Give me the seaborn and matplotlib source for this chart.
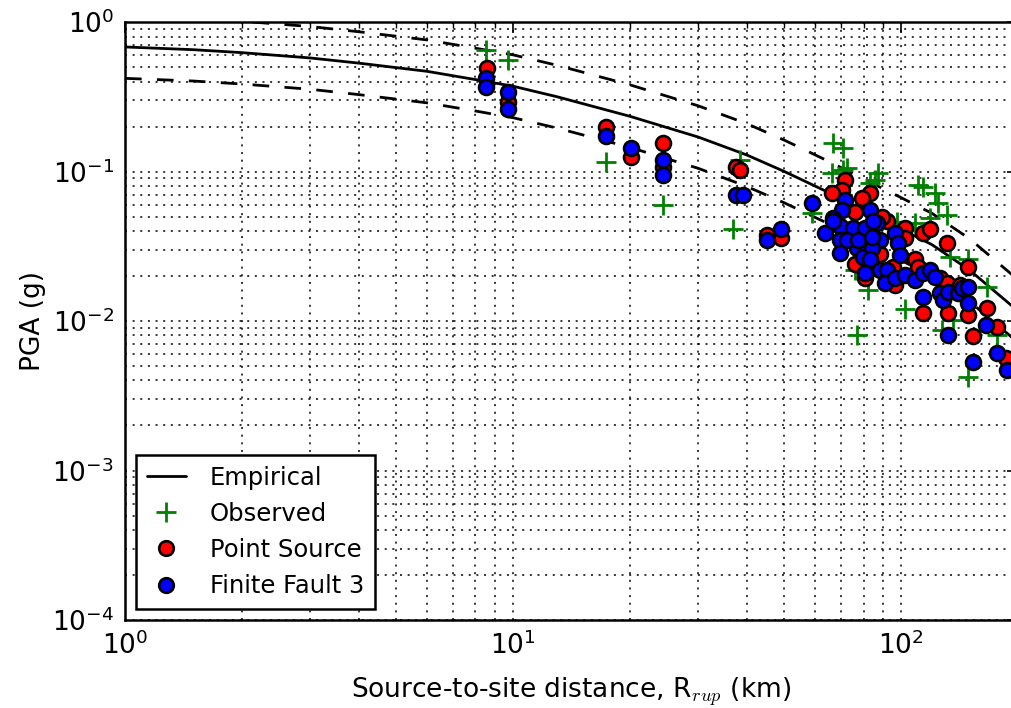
import numpy as np
import pandas as pd
import matplotlib
matplotlib.use("Agg")
import matplotlib.pyplot as plt
from matplotlib.lines import Line2D
from matplotlib.ticker import LogLocator, NullFormatter
import seaborn as sns

# Empirical ground-motion model: median and +/- one standard deviation
emp_r = [1, 1.5, 2, 3, 4, 6, 8, 10, 13, 20, 30, 40, 50, 65, 80, 100, 120, 150, 193]
emp_median = [0.681, 0.653, 0.624, 0.575, 0.531, 0.468, 0.412, 0.372, 0.316, 0.234,
              0.170, 0.129, 0.100, 0.0724, 0.0550, 0.0412, 0.0324, 0.0219, 0.0126]
emp_upper = [1.104, 1.059, 1.012, 0.933, 0.861, 0.759, 0.668, 0.603, 0.513, 0.380,
             0.275, 0.209, 0.162, 0.117, 0.0891, 0.0668, 0.0525, 0.0355, 0.0204]
emp_lower = [0.420, 0.403, 0.385, 0.355, 0.327, 0.288, 0.254, 0.229, 0.195, 0.145,
             0.105, 0.0794, 0.0617, 0.0447, 0.0339, 0.0254, 0.0200, 0.0135, 0.00776]

# Recorded PGA
obs_r = [8.5, 9.7, 17.4, 24.3, 36.9, 38.5, 59.0, 66.8, 70.9, 66.4, 70.9, 72.6,
         83.2, 87.3, 85.7, 110.6, 114.0, 122.4, 124.5, 131.4, 118.8, 97.7, 108.6,
         133.7, 148.9, 166.6, 82.2, 102.4, 77.0, 127.6, 148.9, 176.7, 76.1, 136.0]
obs_pga = [0.65, 0.56, 0.116, 0.060, 0.041, 0.12, 0.053, 0.155, 0.144, 0.098, 0.102, 0.106,
           0.084, 0.098, 0.088, 0.081, 0.079, 0.072, 0.062, 0.051, 0.049, 0.046, 0.045,
           0.027, 0.026, 0.017, 0.016, 0.012, 0.0081, 0.0087, 0.0042, 0.0081, 0.022, 0.0101]

# Simulated PGA, point-source model
ps_r = [8.57, 9.71, 17.3, 20.1, 24.3, 24.3, 37.6, 38.5, 45.1, 49.1, 71.7, 70.5,
        66.4, 83.2, 79.3, 76.1, 92.0, 89.3, 76.1, 88.3, 102.4, 102.4, 114.0, 118.8,
        131.4, 108.6, 110.6, 95.3, 96.6, 80.7, 126.1, 131.4, 148.9, 114.0, 132.2, 148.9,
        166.6, 141.9, 153.4, 176.7, 186.5]
ps_pga = [0.49, 0.29, 0.20, 0.125, 0.155, 0.107, 0.107, 0.102, 0.0376, 0.0359, 0.088, 0.075,
          0.072, 0.072, 0.0665, 0.054, 0.047, 0.050, 0.024, 0.028, 0.042, 0.036, 0.039, 0.041,
          0.033, 0.026, 0.023, 0.023, 0.0174, 0.0194, 0.0194, 0.018, 0.023, 0.0113, 0.0113, 0.011,
          0.0122, 0.0174, 0.0079, 0.0091, 0.0057]

# Simulated PGA, finite-fault model 3
ff_r = [8.52, 8.52, 9.71, 9.71, 17.3, 20.1, 24.3, 24.3, 37.6, 39.2, 45.1, 49.1,
        59.0, 71.7, 70.5, 66.8, 63.7, 69.6, 75.2, 80.7, 83.2, 86.7, 88.3, 69.6,
        69.6, 77.0, 79.8, 84.2, 83.2, 80.7, 88.3, 72.6, 77.5, 84.7, 84.2, 92.0,
        90.9, 96.6, 98.2, 99.4, 96.6, 102.4, 108.6, 114.0, 118.8, 122.4, 126.1, 114.0,
        128.3, 132.2, 140.2, 143.6, 148.9, 148.9, 132.2, 153.4, 165.6, 176.7, 187.6, 66.8]
ff_pga = [0.42, 0.37, 0.34, 0.26, 0.173, 0.144, 0.119, 0.095, 0.070, 0.070, 0.035, 0.041,
          0.062, 0.0645, 0.055, 0.049, 0.039, 0.043, 0.042, 0.042, 0.055, 0.045, 0.035, 0.035,
          0.0285, 0.031, 0.027, 0.031, 0.026, 0.021, 0.022, 0.035, 0.035, 0.047, 0.0365, 0.022,
          0.018, 0.039, 0.033, 0.0276, 0.0194, 0.0203, 0.0188, 0.0209, 0.0219, 0.0197, 0.0154, 0.0145,
          0.0138, 0.0156, 0.0154, 0.0166, 0.0169, 0.0132, 0.0081, 0.0053, 0.0094, 0.0061, 0.0047, 0.047]

sns.set_style("white")
plt.rcParams["font.family"] = ["DejaVu Sans"]
plt.rcParams["mathtext.fontset"] = "cm"
plt.rcParams["xtick.direction"] = "in"
plt.rcParams["ytick.direction"] = "in"
for key in ("text.color", "axes.labelcolor", "xtick.color", "ytick.color", "axes.edgecolor"):
    plt.rcParams[key] = "black"

GREEN = (0.0, 0.5, 0.0)
FS = 19
LW = 2.0

fig = plt.figure(figsize=(10.12, 7.08), dpi=100)
ax = fig.add_axes([0.1235, 0.1243, 0.8825, 0.8446])

emp = pd.DataFrame({"r": emp_r, "median": emp_median, "upper": emp_upper, "lower": emp_lower})
dash = (0, (6, 5.5))
sns.lineplot(data=emp, x="r", y="median", ax=ax, color="k", linewidth=LW,
             estimator=None, sort=False, zorder=3)
sns.lineplot(data=emp, x="r", y="upper", ax=ax, color="k", linewidth=LW, linestyle=dash,
             estimator=None, sort=False, zorder=3)
sns.lineplot(data=emp, x="r", y="lower", ax=ax, color="k", linewidth=LW, linestyle=dash,
             estimator=None, sort=False, zorder=3)

sns.scatterplot(x=obs_r, y=obs_pga, ax=ax, marker="+", color=GREEN, s=200, linewidth=2.0, zorder=4)
sns.scatterplot(x=ps_r, y=ps_pga, ax=ax, marker="o", color="red", edgecolor="k",
                s=115, linewidth=1.9, zorder=5)
sns.scatterplot(x=ff_r, y=ff_pga, ax=ax, marker="o", color="blue", edgecolor="k",
                s=115, linewidth=1.9, zorder=6)

ax.set_xscale("log")
ax.set_yscale("log")
ax.set_xlim(1, 200)
ax.set_ylim(1e-4, 1)

for axis in (ax.xaxis, ax.yaxis):
    axis.set_major_locator(LogLocator(base=10, numticks=10))
    axis.set_minor_locator(LogLocator(base=10, subs=np.arange(2, 10), numticks=20))
    axis.set_minor_formatter(NullFormatter())

grid_style = dict(color="k", linestyle=(0, (1.3, 3.7)), linewidth=1.1)
ax.grid(True, which="major", **grid_style)
ax.grid(True, which="minor", **grid_style)
ax.set_axisbelow(True)

ax.tick_params(which="major", length=8, width=1.2, labelsize=FS, top=True, right=True, pad=8)
ax.tick_params(which="minor", length=4, width=1.0, top=True, right=True)
for sp in ax.spines.values():
    sp.set_linewidth(1.8)

ax.set_xlabel(r"Source-to-site distance, R$_{rup}$ (km)", fontsize=FS, labelpad=11)
ax.set_ylabel("PGA (g)", fontsize=FS, labelpad=4)

handles = [
    Line2D([], [], color="k", lw=LW),
    Line2D([], [], color=GREEN, marker="+", linestyle="None", markersize=14, markeredgewidth=2),
    Line2D([], [], color="red", marker="o", markeredgecolor="k", linestyle="None",
           markersize=10.5, markeredgewidth=1.9),
    Line2D([], [], color="blue", marker="o", markeredgecolor="k", linestyle="None",
           markersize=10.5, markeredgewidth=1.9),
]
labels = ["Empirical", "Observed", "Point Source", "Finite Fault 3"]
leg = ax.legend(handles, labels, loc="lower left", fontsize=17.5, frameon=True, fancybox=False,
                framealpha=1.0, edgecolor="k", handlelength=1.6, handletextpad=1.0,
                borderpad=0.45, labelspacing=0.5, borderaxespad=0.45, numpoints=1)
leg.get_frame().set_linewidth(1.8)

fig.savefig("out.png", dpi=100)
